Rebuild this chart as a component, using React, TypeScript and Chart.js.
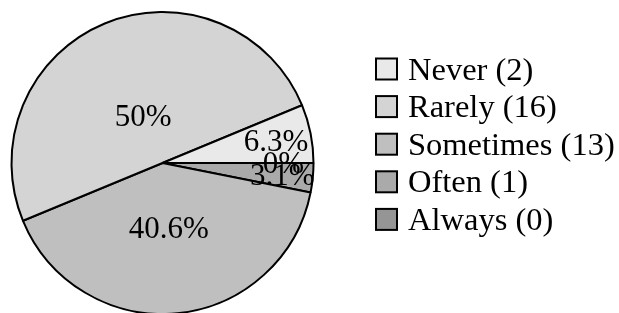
import React, { useEffect, useRef } from "react";
import { Chart, registerables } from "chart.js";

Chart.register(...registerables);

const categories = ["Never", "Rarely", "Sometimes", "Often", "Always"];
const counts = [2, 16, 13, 1, 0];
const colors = ["#e9e9e9", "#d4d4d4", "#bfbfbf", "#aaaaaa", "#959595"];

const FONT = "31px 'Liberation Serif', 'Times New Roman', serif";
const LEGEND_FONT = "32.5px 'Liberation Serif', 'Times New Roman', serif";

function fmtPct(v: number, total: number) {
  const p = total ? (v / total) * 100 : 0;
  let s = p.toFixed(1);
  if (s.endsWith(".0")) s = s.slice(0, -2);
  return s + "%";
}

const pieLabels = {
  id: "pieLabels",
  afterDatasetsDraw(chart: any) {
    const ctx = chart.ctx;
    const meta = chart.getDatasetMeta(0);
    const ds = chart.data.datasets[0];
    const vals: number[] = ds.data;
    const total = vals.reduce((a, b) => a + b, 0);
    ctx.save();
    ctx.font = FONT;
    ctx.fillStyle = "#000";
    ctx.textAlign = "center";
    ctx.textBaseline = "middle";
    meta.data.forEach((arc: any, i: number) => {
      const { x, y, startAngle, endAngle, outerRadius } = arc.getProps(
        ["x", "y", "startAngle", "endAngle", "outerRadius"],
        true
      );
      const span = ((endAngle - startAngle) * 180) / Math.PI;
      const f = Math.max(Math.min(((span - 10) / 110) * -0.3, 0), -0.5) + 0.8;
      const r = f * outerRadius;
      const mid = (startAngle + endAngle) / 2;
      ctx.fillText(fmtPct(vals[i], total), x + Math.cos(mid) * r, y + Math.sin(mid) * r + 2);
    });
    ctx.restore();
  },
};

const sideLegend = {
  id: "sideLegend",
  afterDraw(chart: any) {
    const ctx = chart.ctx;
    ctx.save();
    ctx.font = LEGEND_FONT;
    ctx.textAlign = "left";
    ctx.textBaseline = "alphabetic";
    categories.forEach((c, i) => {
      const cy = 69 + i * 37.6;
      ctx.fillStyle = colors[i];
      ctx.fillRect(376, cy - 10.5, 21, 21);
      ctx.strokeStyle = "#000";
      ctx.lineWidth = 2;
      ctx.strokeRect(376, cy - 10.5, 21, 21);
      ctx.fillStyle = "#000";
      ctx.fillText(`${c} (${counts[i]})`, 408, cy + 10.5);
    });
    ctx.restore();
  },
};

export default function App() {
  const ref = useRef<HTMLCanvasElement>(null);
  useEffect(() => {
    if (!ref.current) return;
    const order = [...categories.keys()].reverse();
    const chart = new Chart(ref.current, {
      type: "pie",
      data: {
        labels: order.map((i) => categories[i]),
        datasets: [
          {
            data: order.map((i) => counts[i]),
            backgroundColor: order.map((i) => colors[i]),
            borderColor: "#000",
            borderWidth: 2,
          },
        ],
      },
      options: {
        responsive: false,
        animation: false,
        rotation: 90,
        radius: 151,
        layout: { padding: { left: 0, right: 294, top: 13, bottom: 0 } },
        plugins: {
          legend: { display: false },
          tooltip: { enabled: false },
        },
      },
      plugins: [pieLabels, sideLegend],
    });
    return () => chart.destroy();
  }, []);
  return (
    <div style={{ position: "fixed", left: 0, top: 0, width: 619, height: 313, background: "#fff" }}>
      <canvas ref={ref} width={619} height={313} style={{ display: "block" }} />
    </div>
  );
}
